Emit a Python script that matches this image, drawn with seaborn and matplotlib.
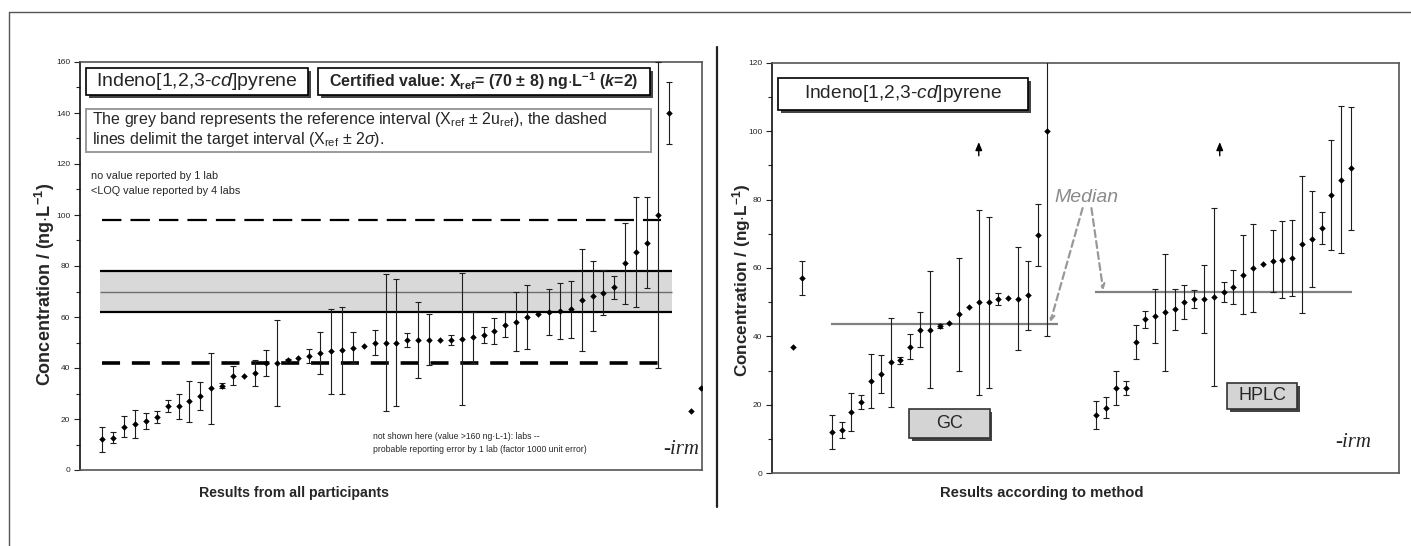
import numpy as np
import matplotlib
matplotlib.use("Agg")
import matplotlib.pyplot as plt
import matplotlib.patheffects as pe
from matplotlib.patches import Rectangle
from matplotlib.lines import Line2D
import seaborn as sns

# Indeno[1,2,3-cd]pyrene - results (ng/L) with expanded uncertainties

# all participants, sorted
all_vals = [12, 12.7, 17, 18, 19.2, 20.8, 25, 25, 27, 29,
            32, 33, 37, 37, 38, 42, 42, 43, 44, 44.6,
            46, 46.5, 47, 48, 48.7, 50, 50, 50, 51, 51,
            51, 51, 51, 51.3, 52, 53, 54.6, 57, 58.2, 60,
            61.2, 62, 62.5, 63, 66.8, 68.3, 69.6, 71.6, 81, 85.6,
            89.2, 100]
all_errs = [5, 2.2, 4, 5.5, 3, 2.2, 2.3, 5, 8, 5.5,
            14, 1, 3.6, 0, 5, 5, 17, 0.6, 0, 2.8,
            8.2, 16.6, 17, 6, 0, 5, 27, 25, 2.6, 15,
            10, 0, 1.8, 26, 10, 3, 5, 5, 11.6, 12.6,
            0, 9, 11, 11.2, 20, 13.6, 9, 4.6, 16, 21.6,
            18, 60]
# results plotted at the right edge
extra_slots = [52, 54, 55]
extra_vals = [140, 23, 32]
extra_errs = [12, 0, 0]

ref_band = (62, 78)     # X_ref +- 2u_ref
x_ref = 70
target = (42, 98)       # X_ref +- 2 sigma

# per method
other_vals = [37, 57]
other_errs = [0, 5]
gc_vals = [12, 12.7, 18, 20.8, 27, 29, 32.5, 33, 37, 42,
           42, 43, 44, 46.5, 48.7, 50, 50, 51, 51.1, 51,
           52, 69.7, 100]
gc_errs = [5, 2.3, 5.5, 2, 8, 5.5, 13, 1, 3.7, 5,
           17, 0.5, 0, 16.5, 0, 27, 25, 1.7, 0, 15,
           10, 9, 60]
hplc_vals = [17, 19.2, 25, 25, 38.3, 45, 46, 47, 48, 50,
             51, 51, 51.5, 53, 54.5, 58, 60, 61.3, 62, 62.4,
             62.9, 66.9, 68.4, 71.6, 81.3, 85.8, 89.1]
hplc_errs = [4, 3, 5, 2, 5, 2.5, 8, 17, 6, 5,
             2.7, 10, 26, 3, 5, 11.5, 12.8, 0, 9, 11.3,
             11, 20, 14, 4.7, 16, 21.5, 18]
gc_median = 43.6
hplc_median = 52.9
flag_slots = [19, 43.6]   # little up arrows

sns.set_style("white")
plt.rcParams['font.family'] = ['Liberation Sans', 'DejaVu Sans']
plt.rcParams['mathtext.fontset'] = 'custom'
plt.rcParams['mathtext.rm'] = 'Liberation Sans'
plt.rcParams['mathtext.it'] = 'Liberation Sans:italic'
plt.rcParams['mathtext.bf'] = 'Liberation Sans:bold'
plt.rcParams['mathtext.bfit'] = 'Liberation Sans:bold:italic'
plt.rcParams['lines.scale_dashes'] = False

W, H = 1411, 546
fig = plt.figure(figsize=(W / 100, H / 100), dpi=100)


def px_axes(x0, x1, y0, y1):
    # pixel box (top-left origin) -> figure axes
    return fig.add_axes([x0 / W, 1 - y1 / H, (x1 - x0) / W, (y1 - y0) / H])


def draw_points(ax, pos, vals, errs):
    pos, vals, errs = np.asarray(pos, float), np.asarray(vals, float), np.asarray(errs, float)
    m = errs > 0
    ax.errorbar(pos[m], vals[m], yerr=errs[m], fmt='none', ecolor='#1e1e1e',
                elinewidth=0.8, capsize=2.3, capthick=0.8, zorder=4)
    sns.scatterplot(x=pos, y=vals, marker='D', color='black', s=11,
                    linewidth=0, ax=ax, zorder=5)


def style_axes(ax, ymax):
    ax.set_ylim(0, ymax)
    ax.set_yticks(np.arange(0, ymax + 1, 20))
    ax.set_yticks(np.arange(10, ymax, 20), minor=True)
    ax.set_xticks([])
    ax.tick_params(axis='y', which='both', left=True, direction='out',
                   width=0.8, color='#222', labelsize=6, pad=3)
    ax.tick_params(axis='y', which='major', length=4)
    ax.tick_params(axis='y', which='minor', length=3)
    for s in ax.spines.values():
        s.set_color('#555')
        s.set_linewidth(1.2)
    ax.spines['left'].set_color('#111')
    ax.set_xlabel('')
    ax.set_ylabel('')


def box(ax, x0, y0, x1, y1, face='white', edge='black', lw=1.2, shadow=True):
    r = Rectangle((x0, y0), x1 - x0, y1 - y0, transform=ax.transAxes,
                  facecolor=face, edgecolor=edge, linewidth=lw, zorder=8)
    if shadow:
        r.set_path_effects([pe.SimplePatchShadow(offset=(2, -2), shadow_rgbFace='#444', alpha=1),
                            pe.Normal()])
    ax.add_patch(r)


# ---------------- left: all participants
ax1 = px_axes(80, 702, 62, 470)
pos_all = np.arange(len(all_vals))
ax1.fill_between([-0.2, 52.3], ref_band[0], ref_band[1], color='#d9d9d9', lw=0, zorder=1)
ax1.hlines(ref_band, -0.2, 52.3, colors='black', lw=1.6, zorder=2)
ax1.hlines(x_ref, -0.2, 52.3, colors='#6e6e6e', lw=1, zorder=2)
ax1.hlines(target[1], 0, 51.3, colors='black', lw=1.6, linestyles=[(0, (14, 6.5))], zorder=2)
ax1.hlines(target[0], 0, 51.3, colors='black', lw=2.6, linestyles=[(0, (13, 8.5))], zorder=2)
draw_points(ax1, pos_all, all_vals, all_errs)
draw_points(ax1, extra_slots, extra_vals, extra_errs)
ax1.set_xlim(-2.05, 55.05)
style_axes(ax1, 160)

box(ax1, 0.0096, 0.919, 0.3666, 0.985)
ax1.text(0.188, 0.952, r'Indeno[1,2,3-$\it{cd}$]pyrene', transform=ax1.transAxes,
         ha='center', va='center', fontsize=14, zorder=9)
box(ax1, 0.3826, 0.919, 0.9164, 0.985)
ax1.text(0.6495, 0.952,
         r'Certified value: X$_{\mathbf{ref}}$= (70 $\mathbf{\pm}$ 8) ng$\cdot$L$^{\mathbf{-1}}$ ($\mathbfit{k}$=2)',
         transform=ax1.transAxes, ha='center', va='center', fontsize=11.5,
         fontweight='bold', zorder=9)
box(ax1, 0.0096, 0.779, 0.918, 0.885, edge='#9a9a9a', lw=1.4, shadow=False)
ax1.text(0.0193, 0.858,
         r'The grey band represents the reference interval (X$_{\rm ref}$ $\pm$ 2u$_{\rm ref}$), the dashed',
         transform=ax1.transAxes, ha='left', va='center', fontsize=11.5, zorder=9)
ax1.text(0.0193, 0.811, r'lines delimit the target interval (X$_{\rm ref}$ $\pm$ 2$\sigma$).',
         transform=ax1.transAxes, ha='left', va='center', fontsize=11.5, zorder=9)
ax1.text(0.018, 0.72, 'no value reported by 1 lab', transform=ax1.transAxes,
         fontsize=7.8, va='center')
ax1.text(0.018, 0.684, '<LOQ value reported by 4 labs', transform=ax1.transAxes,
         fontsize=7.8, va='center')
ax1.text(0.471, 0.083, 'not shown here (value >160 ng·L-1): labs --', transform=ax1.transAxes,
         fontsize=6.2, va='center')
ax1.text(0.471, 0.051, 'probable reporting error by 1 lab (factor 1000 unit error)',
         transform=ax1.transAxes, fontsize=6.2, va='center')
ax1.text(0.995, 0.05, '-irm', transform=ax1.transAxes, ha='right', va='center',
         fontsize=15, style='italic', family='Liberation Serif')

# ---------------- right: by method
ax2 = px_axes(772, 1399, 62.7, 473.3)
gc_pos = np.arange(4, 4 + len(gc_vals))
hplc_pos = np.arange(31, 31 + len(hplc_vals))
ax2.hlines(gc_median, 3.9, 27.1, colors='#808080', lw=1.6, zorder=2)
ax2.hlines(hplc_median, 30.9, 57.1, colors='#808080', lw=1.6, zorder=2)
draw_points(ax2, [0, 1], other_vals, other_errs)
draw_points(ax2, gc_pos, gc_vals, gc_errs)
draw_points(ax2, hplc_pos, hplc_vals, hplc_errs)
for fx in flag_slots:
    ax2.annotate('', xy=(fx, 96.8), xytext=(fx, 92.8),
                 arrowprops=dict(arrowstyle='-|>,head_width=0.25,head_length=0.6',
                                 color='black', lw=1, mutation_scale=8,
                                 shrinkA=0, shrinkB=0))
ax2.set_xlim(-2.11, 61.9)
style_axes(ax2, 120)

ax2.text(30.0, 80.5, 'Median', ha='center', va='center', fontsize=14,
         style='italic', color='#8a8a8a')
arrow_kw = dict(arrowstyle='->', color='#999999', lw=1.6, linestyle=(0, (5, 3)),
                mutation_scale=8, shrinkA=0, shrinkB=0)
ax2.annotate('', xy=(26.3, gc_median + 0.6), xytext=(29.6, 77.5), arrowprops=arrow_kw)
ax2.annotate('', xy=(31.7, hplc_median + 0.6), xytext=(30.5, 77.5), arrowprops=arrow_kw)

box(ax2, 0.0096, 0.885, 0.408, 0.963)
ax2.text(0.209, 0.924, r'Indeno[1,2,3-$\it{cd}$]pyrene', transform=ax2.transAxes,
         ha='center', va='center', fontsize=13.8, zorder=9)
box(ax2, 0.2185, 0.086, 0.3469, 0.157, face='#d4d4d4', edge='#333')
ax2.text(0.2827, 0.1215, 'GC', transform=ax2.transAxes, ha='center', va='center',
         fontsize=13, zorder=9)
box(ax2, 0.7257, 0.157, 0.8373, 0.220, face='#d4d4d4', edge='#333')
ax2.text(0.7815, 0.1885, 'HPLC', transform=ax2.transAxes, ha='center', va='center',
         fontsize=13, zorder=9)
ax2.text(0.955, 0.075, '-irm', transform=ax2.transAxes, ha='right', va='center',
         fontsize=15, style='italic', family='Liberation Serif')

# ---------------- figure texts and frame lines
ylab = r'Concentration / (ng$\cdot$L$^{\mathbf{-1}}$)'
fig.text(45 / W, 1 - 284 / H, ylab, rotation=90, ha='center', va='center',
         fontsize=13, fontweight='bold')
fig.text(742 / W, 1 - 280 / H, ylab, rotation=90, ha='center', va='center',
         fontsize=12.3, fontweight='bold')
fig.text(294 / W, 1 - 493 / H, 'Results from all participants', ha='center', va='center',
         fontsize=10.2, fontweight='bold')
fig.text(1042 / W, 1 - 493 / H, 'Results according to method', ha='center', va='center',
         fontsize=10.6, fontweight='bold')
fig.add_artist(Line2D([716.7 / W, 716.7 / W], [1 - 47 / H, 1 - 507 / H], color='#222', lw=1.6))
fig.add_artist(Line2D([9 / W, 1], [1 - 12 / H, 1 - 12 / H], color='#555', lw=1))
fig.add_artist(Line2D([9 / W, 9 / W], [1 - 12 / H, 0], color='#555', lw=1))

fig.savefig('out.png', dpi=100, facecolor='white')
